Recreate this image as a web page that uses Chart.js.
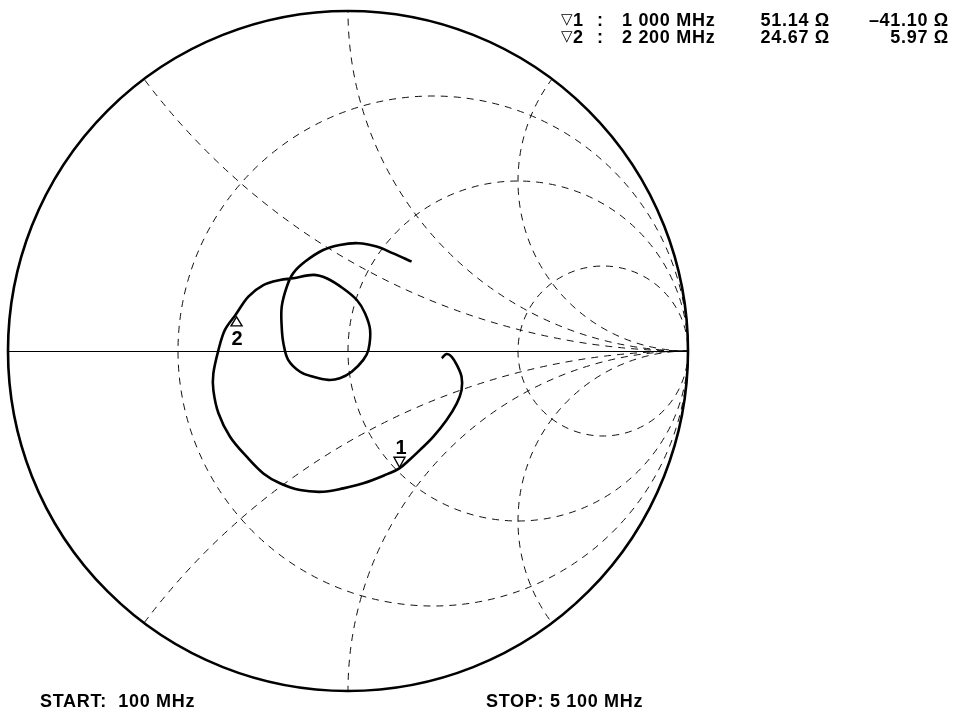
<!DOCTYPE html>
<html>
<head>
<meta charset="utf-8">
<title>Smith chart</title>
<script src="https://cdn.jsdelivr.net/npm/chart.js@4.4.1/dist/chart.umd.min.js"></script>
<style>
html, body { margin: 0; padding: 0; background: #fff; }
#wrap { position: relative; width: 956px; height: 716px; }
</style>
</head>
<body>
<div id="wrap"><canvas id="smith"></canvas></div>
<script>
// Reflection coefficient of the sweep, 100 MHz -> 5100 MHz (real / imag)
const gammaRe = [0.276, 0.290, 0.305, 0.320, 0.334, 0.334, 0.320, 0.290, 0.251, 0.212,
  0.182, 0.151, 0.106, 0.045, -0.014, -0.073, -0.141, -0.200, -0.249, -0.298, -0.347,
  -0.381, -0.396, -0.396, -0.381, -0.362, -0.331, -0.293, -0.249, -0.200, -0.161,
  -0.102, -0.063, -0.014, 0.026, 0.050, 0.065, 0.060, 0.045, 0.011, -0.024,
  -0.058, -0.102, -0.141, -0.176, -0.190, -0.195, -0.195, -0.180, -0.161, -0.126,
  -0.073, -0.024, 0.030, 0.084, 0.133, 0.187];
const gammaIm = [-0.021, -0.009, -0.017, -0.041, -0.076, -0.115, -0.154, -0.203, -0.252, -0.291,
  -0.319, -0.345, -0.366, -0.389, -0.404, -0.414, -0.409, -0.389, -0.360, -0.311, -0.252,
  -0.183, -0.115, -0.066, 0.003, 0.062, 0.106, 0.160, 0.194, 0.209, 0.214,
  0.224, 0.214, 0.184, 0.150, 0.111, 0.062, 0.003, -0.026, -0.061, -0.080,
  -0.085, -0.076, -0.061, -0.026, 0.023, 0.071, 0.130, 0.189, 0.229, 0.263,
  0.297, 0.312, 0.317, 0.307, 0.287, 0.263];

// Marker readouts (ohms)
const markerIds = ['1', '2'];
const markerFreq = ['1 000 MHz', '2 200 MHz'];
const markerR = [51.14, 24.67];
const markerX = [-41.10, 5.97];
const Z0 = 50;

// Grid: constant resistance circles and reactance arcs (normalised)
const gridR = [1 / 3, 1, 3];
const gridX = [0.5, 1, 2];

const startLabel = 'START:  100 MHz';
const stopLabel = 'STOP: 5 100 MHz';

const FONT = 'bold 18px "Liberation Sans", Arial, sans-serif';

function zToGamma(r, x) {
  const a = r / Z0, b = x / Z0;
  const d = (a + 1) * (a + 1) + b * b;
  return { re: (a * a + b * b - 1) / d, im: 2 * b / d };
}

const smithGrid = {
  id: 'smithGrid',
  beforeDatasetsDraw(chart) {
    const { ctx, scales: { x, y } } = chart;
    const cx = x.getPixelForValue(0), cy = y.getPixelForValue(0);
    const unit = x.getPixelForValue(1) - cx;
    const px = u => x.getPixelForValue(u), py = v => y.getPixelForValue(v);

    ctx.save();
    ctx.beginPath();
    ctx.arc(cx, cy, unit, 0, Math.PI * 2);
    ctx.clip();
    ctx.setLineDash([7, 6]);
    ctx.lineWidth = 1;
    ctx.strokeStyle = '#111';
    gridR.forEach(r => {
      ctx.beginPath();
      ctx.arc(px(r / (1 + r)), cy, unit / (1 + r), 0, Math.PI * 2);
      ctx.stroke();
    });
    gridX.forEach(xv => {
      [1, -1].forEach(s => {
        ctx.beginPath();
        ctx.arc(px(1), py(s / xv), unit / xv, 0, Math.PI * 2);
        ctx.stroke();
      });
    });
    ctx.restore();

    // real axis
    ctx.save();
    ctx.strokeStyle = '#000';
    ctx.lineWidth = 1;
    ctx.beginPath();
    ctx.moveTo(px(-1), cy + 0.5);
    ctx.lineTo(px(1), cy + 0.5);
    ctx.stroke();
    // outer circle
    ctx.lineWidth = 2.6;
    ctx.beginPath();
    ctx.arc(cx, cy, unit, 0, Math.PI * 2);
    ctx.stroke();
    ctx.restore();
  },
  afterDatasetsDraw(chart) {
    const { ctx, scales: { x, y } } = chart;
    ctx.save();
    ctx.fillStyle = '#000';
    ctx.strokeStyle = '#000';

    // marker triangles and numbers on the trace
    markerIds.forEach((id, i) => {
      const g = zToGamma(markerR[i], markerX[i]);
      const mx = x.getPixelForValue(g.re), my = y.getPixelForValue(g.im);
      const below = markerX[i] > 0;
      ctx.lineWidth = 1.4;
      ctx.beginPath();
      if (below) {
        ctx.moveTo(mx + 1, my + 2);
        ctx.lineTo(mx - 4.5, my + 11);
        ctx.lineTo(mx + 6.5, my + 11);
      } else {
        ctx.moveTo(mx, my - 1);
        ctx.lineTo(mx - 5.5, my - 11);
        ctx.lineTo(mx + 5.5, my - 11);
      }
      ctx.closePath();
      ctx.stroke();
      ctx.font = 'bold 20px "Liberation Sans", Arial, sans-serif';
      ctx.textAlign = 'center';
      ctx.textBaseline = 'alphabetic';
      ctx.fillText(id, mx + 1.5, below ? my + 30 : my - 14);
    });

    // readout block
    ctx.letterSpacing = '0.7px';
    markerIds.forEach((id, i) => {
      const base = 26 + i * 17;
      ctx.textAlign = 'left';
      ctx.font = '15px "DejaVu Sans", sans-serif';
      ctx.fillText('\u25BD', 561, base - 2);
      ctx.font = FONT;
      ctx.fillText(id, 573, base);
      ctx.fillText(':', 597, base);
      ctx.fillText(markerFreq[i], 622, base);
      ctx.textAlign = 'right';
      ctx.fillText(markerR[i].toFixed(2) + ' \u03A9', 830, base);
      const xs = (markerX[i] < 0 ? '\u2013' : '') + Math.abs(markerX[i]).toFixed(2) + ' \u03A9';
      ctx.fillText(xs, 949, base);
    });

    ctx.textAlign = 'left';
    ctx.font = FONT;
    ctx.fillText(startLabel, 40, 707);
    ctx.fillText(stopLabel, 486, 707);
    ctx.restore();
  }
};

new Chart(document.getElementById('smith'), {
  type: 'scatter',
  data: {
    datasets: [{
      data: gammaRe.map((re, i) => ({ x: re, y: gammaIm[i] })),
      showLine: true,
      borderColor: '#000',
      borderWidth: 2.6,
      pointRadius: 0,
      tension: 0.35,
      fill: false
    }]
  },
  options: {
    responsive: true,
    maintainAspectRatio: false,
    animation: false,
    layout: { padding: { left: 8, right: 268, top: 11, bottom: 25 } },
    plugins: { legend: { display: false }, tooltip: { enabled: false } },
    scales: {
      x: { type: 'linear', min: -1, max: 1, display: false },
      y: { type: 'linear', min: -1, max: 1, display: false }
    }
  },
  plugins: [smithGrid]
});
</script>
</body>
</html>
